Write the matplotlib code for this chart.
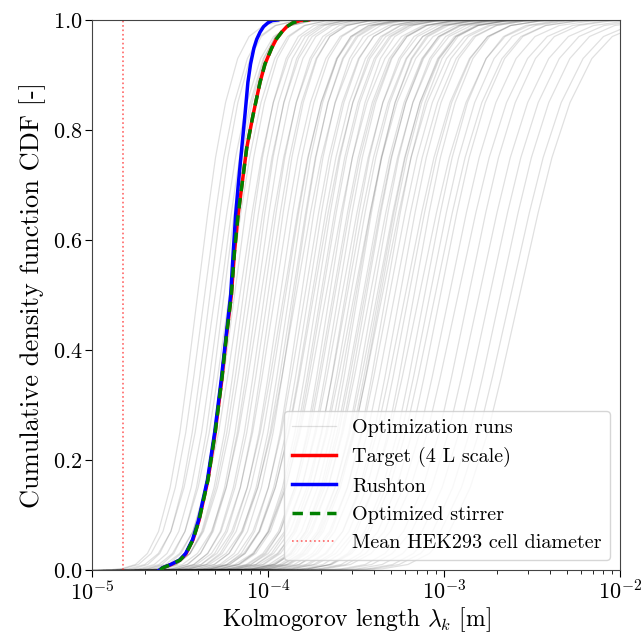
import matplotlib
matplotlib.use("Agg")
import matplotlib.pyplot as plt
import numpy as np
from matplotlib.lines import Line2D

plt.rcParams["font.family"] = "cmr10"
plt.rcParams["mathtext.fontset"] = "cm"
plt.rcParams["axes.unicode_minus"] = False
plt.rcParams["axes.formatter.use_mathtext"] = True

# CDF levels and log10(lambda_k [m])
cdf_levels = [0.0, 0.004, 0.01, 0.018, 0.03, 0.055, 0.09, 0.164, 0.25, 0.345,
              0.42, 0.5, 0.58, 0.645, 0.70, 0.767, 0.827, 0.887, 0.92, 0.949,
              0.965, 0.978, 0.988, 0.995, 0.999, 1.0]
rushton_log = [-4.617, -4.600, -4.553, -4.503, -4.468, -4.429, -4.395, -4.344,
               -4.303, -4.266, -4.240, -4.212, -4.197, -4.184, -4.169, -4.149,
               -4.131, -4.114, -4.099, -4.080, -4.064, -4.045, -4.025, -4.000,
               -3.975, -3.945]
target_log = [-4.614, -4.597, -4.550, -4.500, -4.465, -4.426, -4.392, -4.341,
              -4.300, -4.263, -4.238, -4.208, -4.190, -4.170, -4.148, -4.121,
              -4.085, -4.045, -4.017, -3.979, -3.953, -3.922, -3.893, -3.858,
              -3.815, -3.770]
optimized_log = [-4.614, -4.597, -4.550, -4.500, -4.465, -4.426, -4.392, -4.341,
                 -4.300, -4.263, -4.238, -4.208, -4.190, -4.170, -4.148, -4.121,
                 -4.085, -4.045, -4.017, -3.979, -3.953, -3.922, -3.893, -3.858,
                 -3.815, -3.770]

cell_diameter = 1.5e-5  # mean HEK293 cell diameter [m]

# shared shape of the optimization-run curves (offsets in units of spread)
run_levels = [0.0, 0.0005, 0.002, 0.01, 0.03, 0.07, 0.15, 0.25, 0.35, 0.5,
              0.65, 0.75, 0.85, 0.93, 0.97, 0.99, 0.998, 0.9995, 1.0]
run_offsets = [-4.2, -3.3, -2.9, -2.35, -1.9, -1.48, -1.04, -0.67, -0.39, 0.0,
               0.39, 0.68, 1.06, 1.52, 1.95, 2.5, 3.2, 3.8, 4.8]

# per run: log10 of the median length and spread in decades
run_medians = [
    -4.40, -4.36, -4.33, -4.30, -4.27, -4.25, -4.22, -4.19, -4.16, -4.14,
    -4.12, -4.10, -4.08, -4.06, -4.04, -4.02, -4.00,
    -3.98, -3.96, -3.93, -3.91, -3.88, -3.86, -3.84, -3.81, -3.79, -3.77,
    -3.74, -3.72, -3.70, -3.67, -3.65, -3.63, -3.60, -3.58, -3.56, -3.53,
    -3.51, -3.49, -3.46, -3.44, -3.42, -3.40, -3.37, -3.35, -3.33, -3.31,
    -3.90, -3.75, -3.62, -3.55, -3.45, -3.38, -3.85, -3.69, -3.50, -3.36,
    -3.28, -3.25, -3.22, -3.20, -3.17, -3.14, -3.11, -3.08, -3.05, -3.02,
    -2.97, -2.92, -2.86, -2.80, -2.74, -2.68, -2.62, -2.57,
]
run_spreads = [
    0.15, 0.16, 0.15, 0.17, 0.16, 0.15, 0.17, 0.16, 0.18, 0.16,
    0.17, 0.18, 0.16, 0.17, 0.19, 0.17, 0.18,
    0.17, 0.19, 0.18, 0.20, 0.18, 0.19, 0.21, 0.18, 0.20, 0.19,
    0.21, 0.19, 0.20, 0.22, 0.19, 0.21, 0.20, 0.22, 0.20, 0.21,
    0.23, 0.20, 0.22, 0.21, 0.23, 0.21, 0.22, 0.24, 0.21, 0.23,
    0.19, 0.20, 0.21, 0.22, 0.22, 0.23, 0.18, 0.20, 0.21, 0.22,
    0.23, 0.22, 0.24, 0.23, 0.22, 0.25, 0.23, 0.24, 0.25, 0.24,
    0.25, 0.26, 0.25, 0.26, 0.26, 0.26, 0.27, 0.27,
]


fig = plt.figure(figsize=(6.41, 6.37), dpi=100)
ax = fig.add_axes([0.1435, 0.1052, 0.8237, 0.8634])

offsets = np.array(run_offsets)
for med, spread in zip(run_medians, run_spreads):
    ax.plot(10 ** (med + spread * offsets), run_levels,
            color="black", alpha=0.12, linewidth=0.9)

ax.plot(10 ** np.array(target_log), cdf_levels, color="red", linewidth=2.5)
ax.plot(10 ** np.array(rushton_log), cdf_levels, color="blue", linewidth=2.5)
ax.plot(10 ** np.array(optimized_log), cdf_levels, color="green",
        linewidth=2.5, linestyle=(0, (3, 2)))
ax.axvline(cell_diameter, color="red", linestyle=":", linewidth=1.2, alpha=0.6)

ax.set_xscale("log")
ax.set_xlim(1e-5, 1e-2)
ax.set_ylim(0, 1)
ax.set_xlabel(r"Kolmogorov length $\lambda_k$ [m]", fontsize=17, labelpad=1)
ax.set_ylabel("Cumulative density function CDF [-]", fontsize=19,
              labelpad=5)
ax.tick_params(axis="both", which="major", labelsize=16, direction="out",
               length=5, pad=2, top=False, right=False)
ax.tick_params(axis="x", which="minor", direction="out", length=3)
for spine in ax.spines.values():
    spine.set_color("#444444")

handles = [
    Line2D([], [], color="black", alpha=0.12, linewidth=0.9),
    Line2D([], [], color="red", linewidth=2.5),
    Line2D([], [], color="blue", linewidth=2.5),
    Line2D([], [], color="green", linewidth=2.5, linestyle=(0, (3, 2))),
    Line2D([], [], color="red", linestyle=":", linewidth=1.2, alpha=0.6),
]
labels = ["Optimization runs", "Target (4 L scale)", "Rushton",
          "Optimized stirrer", "Mean HEK293 cell diameter"]
ax.legend(handles, labels, loc="lower right", fontsize=14.5, framealpha=0.8,
          handlelength=2.2)

fig.savefig("out.png", dpi=100)
